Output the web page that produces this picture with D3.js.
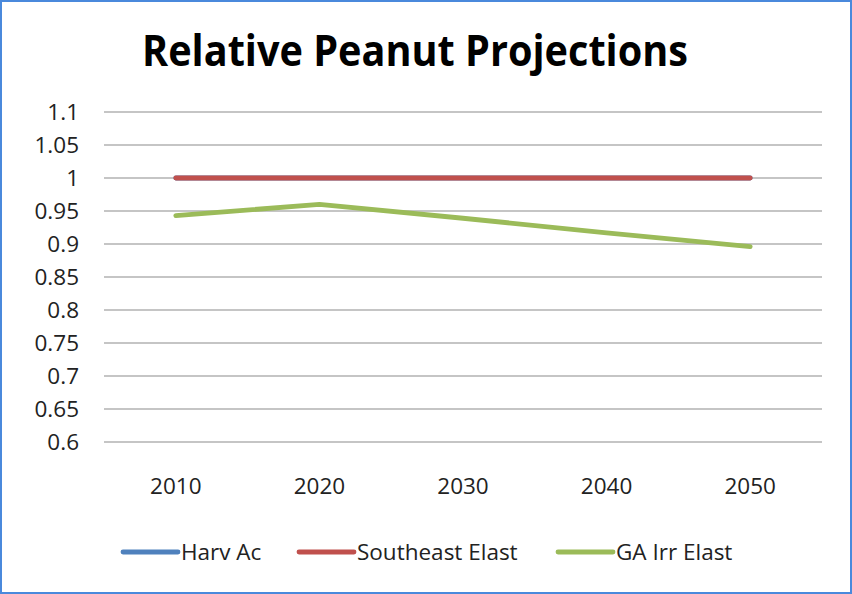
<!DOCTYPE html>
<html>
<head>
<meta charset="utf-8">
<script src="https://cdn.jsdelivr.net/npm/d3@7"></script>
<style>
  html, body { margin: 0; padding: 0; background: #fff; }
  svg { display: block; font-family: "Open Sans", "Noto Sans", sans-serif; }
</style>
</head>
<body>
<div id="chart"></div>
<script>
// data
var years = ["2010", "2020", "2030", "2040", "2050"];
var harvAc = [1, 1, 1, 1, 1];
var southeastElast = [1, 1, 1, 1, 1];
var gaIrrElast = [0.943, 0.960, 0.939, 0.917, 0.896];
var yTicks = [0.6, 0.65, 0.7, 0.75, 0.8, 0.85, 0.9, 0.95, 1, 1.05, 1.1];

var series = [
    { name: "Harv Ac", values: harvAc, color: "#4F81BD" },
    { name: "Southeast Elast", values: southeastElast, color: "#C0504D" },
    { name: "GA Irr Elast", values: gaIrrElast, color: "#9BBB59" }
];

var W = 852, H = 594;
var margin = { top: 112, right: 30, bottom: 152, left: 104 };

var svg = d3.select("#chart")
    .append("svg")
    .attr("width", W)
    .attr("height", H);

// outer frame
svg.append("rect")
    .attr("x", 1).attr("y", 1)
    .attr("width", W - 2).attr("height", H - 2)
    .attr("fill", "#fff")
    .attr("stroke", "#4A89DC")
    .attr("stroke-width", 2);

// title
svg.append("text")
    .attr("x", 415)
    .attr("y", 66)
    .attr("text-anchor", "middle")
    .attr("font-size", 43)
    .attr("font-weight", "bold")
    .attr("textLength", 546)
    .attr("lengthAdjust", "spacingAndGlyphs")
    .attr("fill", "#000")
    .text("Relative Peanut Projections");

var x = d3.scaleBand()
    .domain(years)
    .range([margin.left, W - margin.right]);

var y = d3.scaleLinear()
    .domain([0.6, 1.1])
    .range([H - margin.bottom, margin.top]);

// gridlines
svg.append("g")
    .selectAll("line")
    .data(yTicks)
    .enter()
    .append("line")
    .attr("x1", margin.left)
    .attr("x2", W - margin.right)
    .attr("y1", function (d) { return y(d); })
    .attr("y2", function (d) { return y(d); })
    .attr("stroke", "#8C8C8C")
    .attr("stroke-width", 1.2);

// y labels
svg.append("g")
    .selectAll("text")
    .data(yTicks)
    .enter()
    .append("text")
    .attr("x", 79)
    .attr("y", function (d) { return y(d); })
    .attr("dy", "0.36em")
    .attr("text-anchor", "end")
    .attr("font-size", 22.5)
    .attr("fill", "#222")
    .text(function (d) { return String(d); });

// x labels
svg.append("g")
    .selectAll("text")
    .data(years)
    .enter()
    .append("text")
    .attr("x", function (d) { return x(d) + x.bandwidth() / 2; })
    .attr("y", 486)
    .attr("dy", "0.36em")
    .attr("text-anchor", "middle")
    .attr("font-size", 22.5)
    .attr("fill", "#222")
    .text(function (d) { return d; });

// lines
var line = d3.line()
    .x(function (d, i) { return x(years[i]) + x.bandwidth() / 2; })
    .y(function (d) { return y(d); });

svg.append("g")
    .selectAll("path")
    .data(series)
    .enter()
    .append("path")
    .attr("d", function (d) { return line(d.values); })
    .attr("fill", "none")
    .attr("stroke", function (d) { return d.color; })
    .attr("stroke-width", 4.8)
    .attr("stroke-linecap", "round")
    .attr("stroke-linejoin", "round");

// legend
var legendX = [123, 299, 558];
var legend = svg.append("g")
    .selectAll("g")
    .data(series)
    .enter()
    .append("g")
    .attr("transform", function (d, i) { return "translate(" + legendX[i] + ",552)"; });

legend.append("line")
    .attr("x1", 0).attr("x2", 55)
    .attr("y1", 0).attr("y2", 0)
    .attr("stroke", function (d) { return d.color; })
    .attr("stroke-width", 4.8)
    .attr("stroke-linecap", "round");

legend.append("text")
    .attr("x", 58)
    .attr("y", 0)
    .attr("dy", "0.36em")
    .attr("font-size", 22.5)
    .attr("fill", "#222")
    .text(function (d) { return d.name; });
</script>
</body>
</html>
